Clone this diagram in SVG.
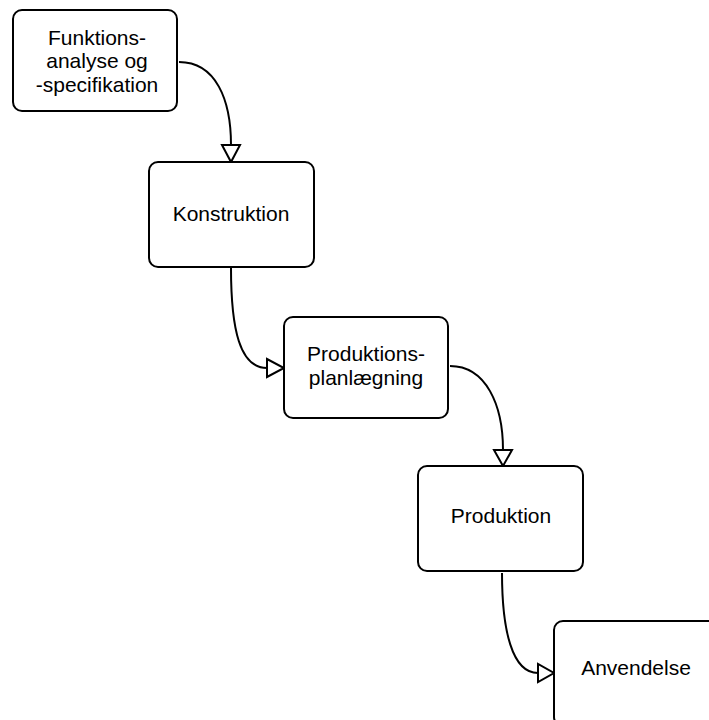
<svg xmlns="http://www.w3.org/2000/svg" width="709" height="720" viewBox="0 0 709 720">
  <style>
    .box { fill: #ffffff; stroke: #000000; stroke-width: 2; }
    .lbl { font-family: "Liberation Sans", Arial, sans-serif; font-size: 21px; fill: #000000; text-anchor: middle; }
    .edge { fill: none; stroke: #000000; stroke-width: 2; }
    .head { fill: #ffffff; stroke: #000000; stroke-width: 2; stroke-linejoin: miter; }
  </style>
  <rect width="709" height="720" fill="#ffffff"/>

  <g id="connectors">
    <!-- Funktionsanalyse -> Konstruktion -->
    <path class="edge" d="M179,62 C216,62 231,100 231,145"/>
    <polygon class="head" points="222,145 240,145 231,162"/>
    <!-- Konstruktion -> Produktionsplanlægning -->
    <path class="edge" d="M231,268 C231,330 240,368 267,368"/>
    <polygon class="head" points="267,359 267,377 284,368"/>
    <!-- Produktionsplanlægning -> Produktion -->
    <path class="edge" d="M450,366 C486,366 503,405 503,450"/>
    <polygon class="head" points="494,450 512,450 503,466"/>
    <!-- Produktion -> Anvendelse -->
    <path class="edge" d="M502,573 C502,630 512,673 538,673"/>
    <polygon class="head" points="538,664 538,682 554,673"/>
  </g>

  <g id="funktionsanalyse">
    <rect class="box" x="13" y="10" width="164" height="101" rx="9"/>
    <text class="lbl" x="97" y="45">Funktions-</text>
    <text class="lbl" x="97" y="68">analyse og</text>
    <text class="lbl" x="97" y="92">-specifikation</text>
  </g>

  <g id="konstruktion">
    <rect class="box" x="149" y="162" width="165" height="105" rx="9"/>
    <text class="lbl" x="231" y="221">Konstruktion</text>
  </g>

  <g id="produktionsplanlaegning">
    <rect class="box" x="284" y="317" width="164" height="101" rx="9"/>
    <text class="lbl" x="366" y="361">Produktions-</text>
    <text class="lbl" x="366" y="385">planlægning</text>
  </g>

  <g id="produktion">
    <rect class="box" x="418" y="466" width="165" height="105" rx="9"/>
    <text class="lbl" x="501" y="523">Produktion</text>
  </g>

  <g id="anvendelse">
    <rect class="box" x="554" y="621" width="165" height="105" rx="9"/>
    <text class="lbl" x="636" y="675">Anvendelse</text>
  </g>
</svg>
